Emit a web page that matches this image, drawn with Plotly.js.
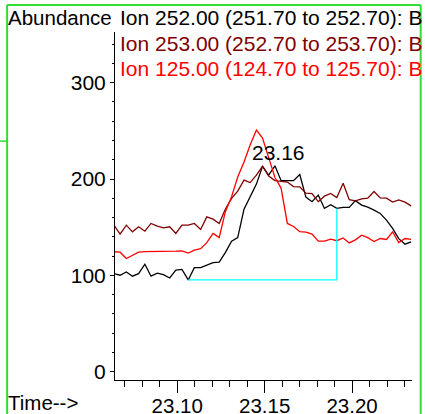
<!DOCTYPE html>
<html>
<head>
<meta charset="utf-8">
<script src="https://cdn.plot.ly/plotly-3.0.1.min.js"></script>
<style>html,body{margin:0;padding:0;background:#fff;}#chart{width:425px;height:414px;}</style>
</head>
<body>
<div id="chart"></div>
<script>
// Retention time (min) of each scan
const time = [23.0638,23.0673,23.0709,23.0744,23.0779,23.0815,23.0850,23.0886,23.0921,23.0957,
  23.0992,23.1027,23.1063,23.1098,23.1134,23.1169,23.1205,23.1240,23.1275,23.1311,
  23.1346,23.1382,23.1417,23.1453,23.1488,23.1523,23.1559,23.1594,23.1630,23.1665,
  23.1701,23.1736,23.1771,23.1807,23.1842,23.1878,23.1913,23.1949,23.1984,23.2019,
  23.2055,23.2090,23.2126,23.2161,23.2197,23.2232,23.2267,23.2303,23.2338];

// Ion 252.00 (black)
const ion252 = [101.8,100.2,103.6,99.2,101.8,111.6,99.2,102.3,100.7,97.3,
  105.4,106.2,95.3,108.0,108.0,110.6,113.2,113.7,123.6,135.5,
  139.2,168.7,181.2,194.7,213.1,204.0,213.7,198.3,198.3,198.3,
  204.6,181.2,176.5,183.3,169.5,173.4,169.5,170.5,170.5,177.6,
  172.9,170.8,167.7,164.3,157.3,148.7,138.1,132.4,134.8];

// Ion 253.00 (dark red)
const ion253 = [152.1,142.8,152.1,145.2,150.4,145.9,153.9,151.1,149.3,150.4,
  143.5,152.1,152.1,153.9,147.7,160.7,158.4,153.9,168.7,179.9,
  187.4,198.9,196.3,204.0,213.4,203.0,198.3,197.3,196.8,192.1,
  191.9,185.4,184.8,176.5,182.2,185.0,180.7,195.7,178.6,177.4,
  179.3,180.2,187.1,180.4,180.2,176.0,178.4,176.0,172.1];

// Ion 125.00 (red)
const ion125 = [124.6,124.1,117.5,121.0,124.1,124.6,124.6,124.6,124.6,125.1,
  125.1,125.4,123.1,126.2,127.7,134.0,143.5,139.2,165.9,181.7,
  202.0,217.6,235.2,250.8,242.5,222.2,201.5,190.6,153.9,150.8,
  145.4,144.9,142.8,135.5,135.5,137.6,136.0,138.8,133.7,136.9,
  141.7,139.2,135.2,138.3,137.3,145.2,134.0,138.3,137.3];

// Integration of ion 252: start / end scan indices
const intStartIdx = 12;
const intEndIdx = 36;
const peakLabel = "23.16";
const peakLabelTime = 23.158;
const peakLabelAbund = 228;

const seriesNames = ["Ion 252.00 (251.70 to 252.70): B", "Ion 253.00 (252.70 to 253.70): B", "Ion 125.00 (124.70 to 125.70): B"];
const seriesColors = ["#000000", "#800000", "#ff0000"];

const FONT = "Liberation Sans, Arial, sans-serif";
const FS = 21;

const traces = [
  {x: time, y: ion252, mode: "lines", line: {color: seriesColors[0], width: 1.3}, name: seriesNames[0]},
  {x: time, y: ion253, mode: "lines", line: {color: seriesColors[1], width: 1.3}, name: seriesNames[1]},
  {x: time, y: ion125, mode: "lines", line: {color: seriesColors[2], width: 1.3}, name: seriesNames[2]},
  {x: [time[intStartIdx], time[intEndIdx], time[intEndIdx]],
   y: [ion252[intStartIdx], ion252[intStartIdx], ion252[intEndIdx]],
   mode: "lines", line: {color: "#00ffff", width: 1.3}, name: "baseline"}
];

// paper coords helpers (plot area: x 115..412.3 px, y 32..379.7 px)
const PL = 115, PR = 412.3, PT = 32, PB = 379.7;
const px = v => (v - PL) / (PR - PL);
const py = v => (PB - v) / (PB - PT);

const green = "#33dd33";
const layout = {
  width: 425, height: 414,
  margin: {l: 115, r: 425 - 412.3, t: 32, b: 414 - 379.7, pad: 0},
  paper_bgcolor: "#fff", plot_bgcolor: "#fff",
  showlegend: false,
  font: {family: FONT, size: FS, color: "#000"},
  xaxis: {
    range: [23.0644, 23.2343], showgrid: false, zeroline: false,
    showline: true, linecolor: "#000", linewidth: 1,
    ticks: "outside", ticklen: 12, tickwidth: 1, tickcolor: "#000",
    tick0: 23.10, dtick: 0.05, tickformat: ".2f",
    tickfont: {family: FONT, size: 20.5, color: "#000"},
    minor: {ticks: "outside", ticklen: 6, tickwidth: 1, tickcolor: "#000", dtick: 0.01, tick0: 23.10, showgrid: false},
    ticklabelstandoff: -5
  },
  yaxis: {
    range: [-8.5, 352.5], showgrid: false, zeroline: false,
    showline: true, linecolor: "#000", linewidth: 1,
    ticks: "outside", ticklen: 4, tickwidth: 1, tickcolor: "#000",
    tick0: 0, dtick: 100,
    tickfont: {family: FONT, size: FS, color: "#000"},
    minor: {ticks: "outside", ticklen: 2, tickwidth: 1, tickcolor: "#000", dtick: 20, showgrid: false},
    ticklabelstandoff: 0
  },
  annotations: [
    {xref: "paper", yref: "paper", x: px(6), y: py(18), xanchor: "left", yanchor: "middle", text: "Abundance", showarrow: false, font: {family: FONT, size: 20.5, color: "#000"}},
    {xref: "paper", yref: "paper", x: px(6), y: py(402), xanchor: "left", yanchor: "middle", text: "Time-->", showarrow: false, font: {family: FONT, size: 20.5, color: "#000"}},
    {xref: "paper", yref: "paper", x: px(118.5), y: py(18), xanchor: "left", yanchor: "middle", text: seriesNames[0], showarrow: false, font: {family: FONT, size: FS, color: seriesColors[0]}},
    {xref: "paper", yref: "paper", x: px(118.5), y: py(43), xanchor: "left", yanchor: "middle", text: seriesNames[1], showarrow: false, font: {family: FONT, size: FS, color: seriesColors[1]}},
    {xref: "paper", yref: "paper", x: px(118.5), y: py(68), xanchor: "left", yanchor: "middle", text: seriesNames[2], showarrow: false, font: {family: FONT, size: FS, color: seriesColors[2]}},
    {xref: "x", yref: "y", x: peakLabelTime, y: peakLabelAbund, xanchor: "center", yanchor: "middle", text: peakLabel, showarrow: false, font: {family: FONT, size: FS, color: "#000"}}
  ],
  shapes: [
    {type: "line", xref: "paper", yref: "paper", x0: px(7), x1: px(7), y0: py(5), y1: py(420), line: {color: green, width: 2}},
    {type: "line", xref: "paper", yref: "paper", x0: px(7), x1: px(421), y0: py(5), y1: py(5), line: {color: green, width: 2}},
    {type: "line", xref: "paper", yref: "paper", x0: px(421), x1: px(421), y0: py(5), y1: py(420), line: {color: green, width: 2}},
    {type: "line", xref: "paper", yref: "paper", x0: px(-2), x1: px(7), y0: py(141), y1: py(141), line: {color: green, width: 1.5}}
  ]
};

Plotly.newPlot("chart", traces, layout, {staticPlot: true, displayModeBar: false});
</script>
</body>
</html>
